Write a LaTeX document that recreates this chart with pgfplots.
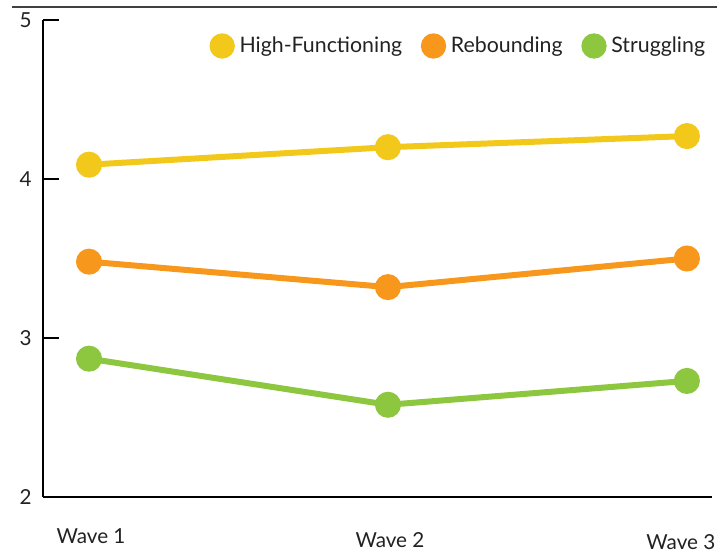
\documentclass[border=0pt]{standalone}
\usepackage{pgfplots}
\pgfplotsset{compat=1.18}
\usepackage{fontspec}
\setmainfont{Lato}
\definecolor{hfcol}{HTML}{F2C81A}
\definecolor{rbcol}{HTML}{F7981D}
\definecolor{stcol}{HTML}{8DC63F}
\definecolor{txtcol}{HTML}{222222}
\newcommand{\lbl}[3]{\raisebox{#1}{\makebox[0pt][c]{\hspace*{#2}#3}}}
\begin{document}
\begin{tikzpicture}
\begin{axis}[
    scale only axis,
    width=501.75pt, height=357.75pt,
    xmin=-0.154, xmax=2.084,
    ymin=2, ymax=5,
    axis lines=left,
    axis line style={-, line width=1.5pt, black},
    xtick={0,1,2},
    xticklabels={\lbl{0pt}{0pt}{Wave 1}, \lbl{-3pt}{0pt}{Wave 2}, \lbl{-5pt}{-12pt}{Wave 3}},
    x tick style={draw=none},
    xticklabel style={anchor=base, yshift=-34.5pt, xshift=1.5pt},
    ytick={2,3,4,5},
    tick align=inside,
    major tick length=12pt,
    y tick style={line width=1.5pt, black},
    yticklabel style={xshift=-5pt},
    /pgf/number format/assume math mode=true,
    tick label style={font=\fontsize{15.5}{18}\selectfont, text=txtcol},
    every axis plot/.append style={line width=4.5pt, mark=*, mark size=7.5pt, mark options={solid}},
    legend columns=3,
    legend style={draw=none, fill=none, at={(1.0,0.9455)}, anchor=east,
        font=\fontsize{16}{18}\selectfont, text=txtcol,
        /tikz/every even column/.append style={column sep=12pt}},
    legend cell align=left,
    legend image code/.code={\path[draw=none, fill=none] (-9.5pt,0pt) -- (11pt,0pt); \fill[#1, draw=none] (0pt,0pt) circle (9.5pt);},
]
\addplot[color=hfcol] coordinates {(0,4.09) (1,4.20) (2,4.27)};
\addlegendentry{High-Functioning}
\addplot[color=rbcol] coordinates {(0,3.48) (1,3.32) (2,3.50)};
\addlegendentry{Rebounding}
\addplot[color=stcol] coordinates {(0,2.87) (1,2.58) (2,2.73)};
\addlegendentry{Struggling}
\coordinate (O) at (rel axis cs:0,0);
\end{axis}
\draw[line width=1.2pt, color=black!75] ([shift={(-23.25pt,367.5pt)}]O) -- ([shift={(505.5pt,367.5pt)}]O);
\pgfresetboundingbox
\path ([shift={(-32.25pt,-42.75pt)}]O) rectangle ([shift={(512.25pt,372.75pt)}]O);
\end{tikzpicture}
\end{document}
